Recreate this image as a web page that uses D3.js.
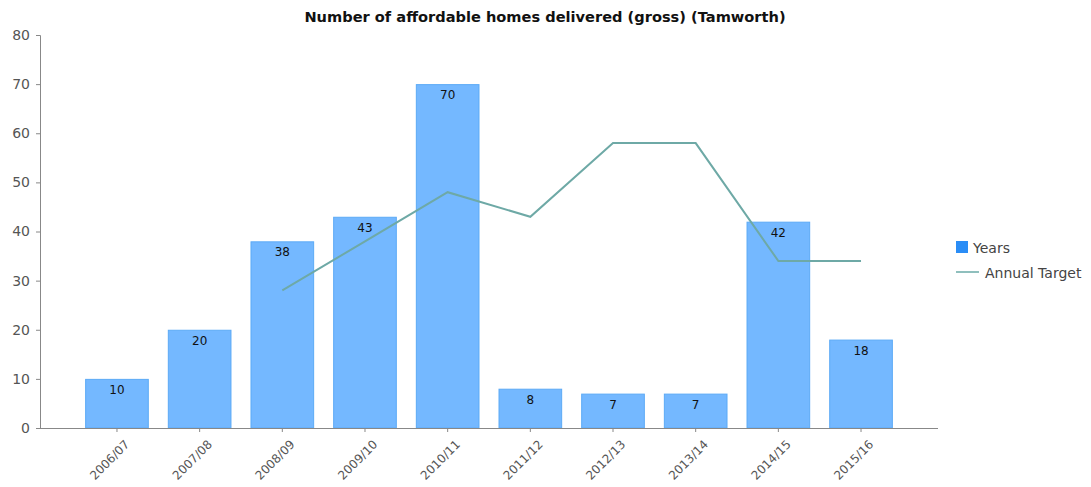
<!DOCTYPE html>
<html><head><meta charset="utf-8">
<script src="https://cdn.jsdelivr.net/npm/d3@7"></script>
<style>body{margin:0;background:#fff}svg{display:block}text{font-family:"DejaVu Sans",Verdana,sans-serif}</style>
</head><body><svg id="c" width="1091" height="487"></svg>
<script>
const categories = ["2006/07","2007/08","2008/09","2009/10","2010/11","2011/12","2012/13","2013/14","2014/15","2015/16"];
const years = [10,20,38,43,70,8,7,7,42,18];
const annualTarget = [null,null,28,38,48,43,58,58,34,34];
const yTicks = [0,10,20,30,40,50,60,70,80];
const title = "Number of affordable homes delivered (gross) (Tamworth)";
const seriesNames = ["Years","Annual Target"];

const svg = d3.select("#c");
const pLeft = 40, pRight = 938, pTop = 35, pBottom = 428;
const x = d3.scaleBand().domain(categories).range([pLeft, pRight]).paddingInner(0.23).paddingOuter(0.546);
const y = d3.scaleLinear().domain([0, 80]).range([pBottom, pTop]);

svg.append("text").attr("x", 545).attr("y", 22).attr("text-anchor", "middle")
  .attr("font-size", 14.6).attr("font-weight", "bold").attr("fill", "#111").text(title);

// bars
svg.append("g").selectAll("rect").data(categories).join("rect")
  .attr("x", d => x(d) + 0.5).attr("width", x.bandwidth() - 1)
  .attr("y", (d,i) => y(years[i]) + 0.5).attr("height", (d,i) => y(0) - y(years[i]) - 0.5)
  .attr("fill", "#74b8ff").attr("stroke", "#5caaf6").attr("stroke-width", 1);

// y axis
const ya = svg.append("g").attr("transform", `translate(${pLeft},0)`)
  .call(d3.axisLeft(y).tickValues(yTicks).tickSize(4).tickPadding(6));
ya.select(".domain").attr("stroke", "#888").attr("d", `M-4,${pTop}.5H0.5V${pBottom}.5`);
ya.selectAll(".tick line").attr("stroke", "#888");
ya.selectAll("text").attr("font-size", 14).attr("fill", "#555").attr("font-family", "DejaVu Sans, Verdana, sans-serif");

// x axis
const xa = svg.append("g").attr("transform", `translate(0,${pBottom})`)
  .call(d3.axisBottom(x).tickSize(4).tickSizeOuter(0).tickPadding(4));
xa.select(".domain").attr("stroke", "#888").attr("d", `M${pLeft},0.5H${pRight}`);
xa.selectAll(".tick line").attr("stroke", "#888");
xa.selectAll("text").attr("font-size", 12).attr("fill", "#555")
  .attr("font-family", "DejaVu Sans, Verdana, sans-serif")
  .attr("text-anchor", "end").attr("dy", "0.3em")
  .attr("transform", "translate(5,9) rotate(-45)");

// line
const pts = categories.map((c,i) => [c, annualTarget[i]]).filter(d => d[1] != null);
svg.append("path").datum(pts)
  .attr("d", d3.line().x(d => x(d[0]) + x.bandwidth()/2).y(d => y(d[1])))
  .attr("fill", "none").attr("stroke", "#6ea9a6").attr("stroke-width", 2);

// bar labels
svg.append("g").selectAll("text").data(categories).join("text")
  .attr("x", d => x(d) + x.bandwidth()/2).attr("y", (d,i) => y(years[i]) + 15)
  .attr("text-anchor", "middle").attr("font-size", 12).attr("fill", "#111").text((d,i) => years[i]);

// legend
const lg = svg.append("g");
lg.append("rect").attr("x", 956).attr("y", 241).attr("width", 12).attr("height", 12).attr("fill", "#2a8df6");
lg.append("text").attr("x", 973).attr("y", 253).attr("font-size", 14).attr("fill", "#444").text(seriesNames[0]);
lg.append("line").attr("x1", 956).attr("x2", 979).attr("y1", 272).attr("y2", 272).attr("stroke", "#8fbfbd").attr("stroke-width", 2);
lg.append("text").attr("x", 985).attr("y", 278).attr("font-size", 14).attr("fill", "#444").text(seriesNames[1]);
</script></body></html>
